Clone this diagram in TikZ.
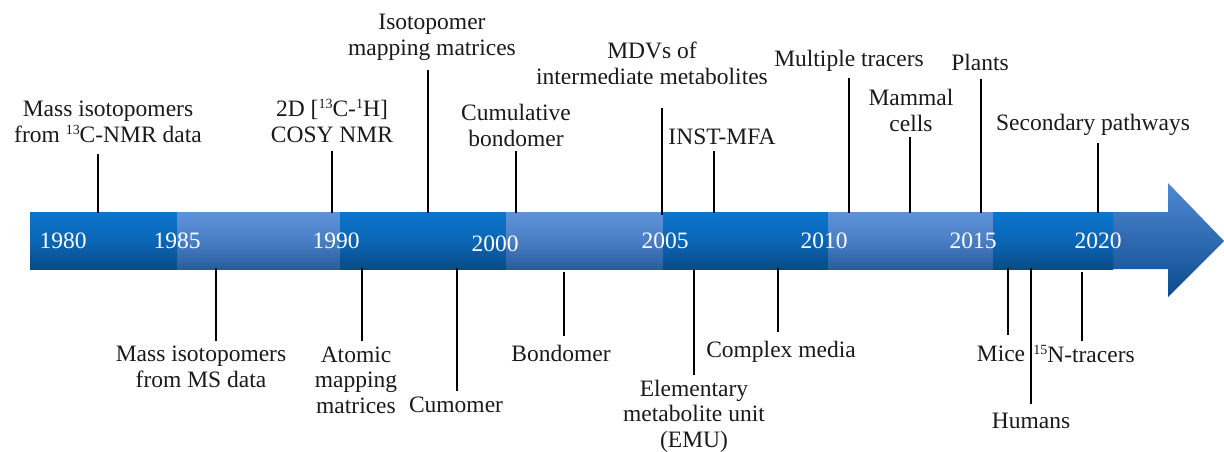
\documentclass[tikz,border=0pt]{standalone}
\usepackage{fontspec}
\setmainfont{Liberation Serif}
\definecolor{txt}{HTML}{1A1A1A}
\definecolor{dkT}{HTML}{0B75CD}
\definecolor{dkM}{HTML}{0A66B6}
\definecolor{dkB}{HTML}{0A4A88}
\definecolor{ltT}{HTML}{5E93D9}
\definecolor{ltM}{HTML}{4A7FC6}
\definecolor{ltB}{HTML}{285C9C}
\definecolor{hdT}{HTML}{5089D3}
\definecolor{hdB}{HTML}{0C4B8E}
\newcommand\lblfont{\fontsize{23.5}{25.5}\selectfont}
\newcommand\supx[1]{\raisebox{0.33em}{\fontsize{14}{14}\selectfont #1}}
\begin{document}
\begin{tikzpicture}[x=1pt,y=-1pt,
  lbl/.style={font=\lblfont, text=txt, inner sep=0pt, align=center, anchor=base},
  yr/.style={font=\lblfont, text=white, inner sep=0pt, anchor=base},
  tick/.style={line width=2.9pt, black},
  dkseg/.style={top color=dkT, bottom color=dkB, middle color=dkM},
  ltseg/.style={top color=ltT, bottom color=ltB, middle color=ltM}]
\fill[white] (0,0) rectangle (1224,451);
\useasboundingbox (0,0) rectangle (1224,451);
% arrow shaft end + head
\shade[top color=hdT, bottom color=hdB] (1110,212) -- (1168,212) -- (1168,183) -- (1224,241) -- (1168,297) -- (1168,269) -- (1110,269) -- cycle;
% bar segments
\shade[dkseg] (30,212) rectangle (177,269);
\shade[ltseg] (177,212) rectangle (340,269);
\shade[dkseg] (340,212) rectangle (506,269);
\shade[ltseg] (506,212) rectangle (663,269);
\shade[dkseg] (663,212) rectangle (828,269);
\shade[ltseg] (828,212) rectangle (993,269);
\shade[dkseg] (993,212) rectangle (1113,269);
% years
\node[yr] (y1980) at (63,248) {1980};
\node[yr] (y1985) at (177,248) {1985};
\node[yr] (y1990) at (336,248) {1990};
\node[yr] (y2000) at (495,251) {2000};
\node[yr] (y2005) at (665,248) {2005};
\node[yr] (y2010) at (824,248) {2010};
\node[yr] (y2015) at (973,248) {2015};
\node[yr] (y2020) at (1098,248) {2020};
% top labels (anchor = baseline of last line)
\node[lbl] (nmr) at (108,142) {Mass isotopomers\\from \supx{13}C-NMR data};
\node[lbl] (cosy) at (332,142) {2D [\supx{13}C-\supx{1}H]\\COSY NMR};
\node[lbl] (isomap) at (432,55) {Isotopomer\\mapping matrices};
\node[lbl] (cumb) at (516,146) {Cumulative\\bondomer};
\begin{scope}
\clip (500,0) rectangle (800,83);
\node[lbl] (mdv) at (652,84) {MDVs of\\intermediate metabolites};
\end{scope}
\node[lbl] (inst) at (722,144) {INST-MFA};
\node[lbl] (multi) at (849,66) {Multiple tracers};
\node[lbl] (mammal) at (911,131) {Mammal\\cells};
\node[lbl] (plants) at (980,70) {Plants};
\node[lbl] (second) at (1093,130) {Secondary pathways};
% bottom labels
\node[lbl] (ms) at (201,387) {Mass isotopomers\\from MS data};
\node[lbl] (atomic) at (356,413) {Atomic\\mapping\\matrices};
\node[lbl] (cumo) at (456,412) {Cumomer};
\node[lbl] (bond) at (561,361) {Bondomer};
\node[lbl] (emu) at (694,447) {Elementary\\metabolite unit\\(EMU)};
\node[lbl] (cmplx) at (781,357) {Complex media};
\node[lbl] (mice) at (1001,361) {Mice};
\node[lbl] (humans) at (1031,428) {Humans};
\node[lbl] (ntr) at (1084,362) {\supx{15}N-tracers};
% tick end points
\coordinate (a1) at (98,154);   \coordinate (b1) at (98,213);
\coordinate (a2) at (332,151);  \coordinate (b2) at (332,213);
\coordinate (a3) at (428,70);   \coordinate (b3) at (428,213);
\coordinate (a4) at (516,151);  \coordinate (b4) at (516,213);
\coordinate (a5) at (662,108);  \coordinate (b5) at (662,215);
\coordinate (a6) at (714,151);  \coordinate (b6) at (714,213);
\coordinate (a7) at (849,78);   \coordinate (b7) at (849,213);
\coordinate (a8) at (910,137);  \coordinate (b8) at (910,213);
\coordinate (a9) at (981,79);   \coordinate (b9) at (981,213);
\coordinate (a10) at (1098,143); \coordinate (b10) at (1098,213);
\coordinate (c1) at (216,268);  \coordinate (d1) at (216,341);
\coordinate (c2) at (362,268);  \coordinate (d2) at (362,341);
\coordinate (c3) at (457,268);  \coordinate (d3) at (457,391);
\coordinate (c4) at (564,272);  \coordinate (d4) at (564,336);
\coordinate (c5) at (694,270);  \coordinate (d5) at (694,375);
\coordinate (c6) at (778,268);  \coordinate (d6) at (778,332);
\coordinate (c7) at (1008,268); \coordinate (d7) at (1008,335);
\coordinate (c8) at (1031,268); \coordinate (d8) at (1031,404);
\coordinate (c9) at (1082,272); \coordinate (d9) at (1082,341);
\foreach \i in {1,...,10} {\draw[tick] (a\i) -- (b\i);}
\foreach \i in {1,...,9} {\draw[tick] (c\i) -- (d\i);}
\end{tikzpicture}
\end{document}
